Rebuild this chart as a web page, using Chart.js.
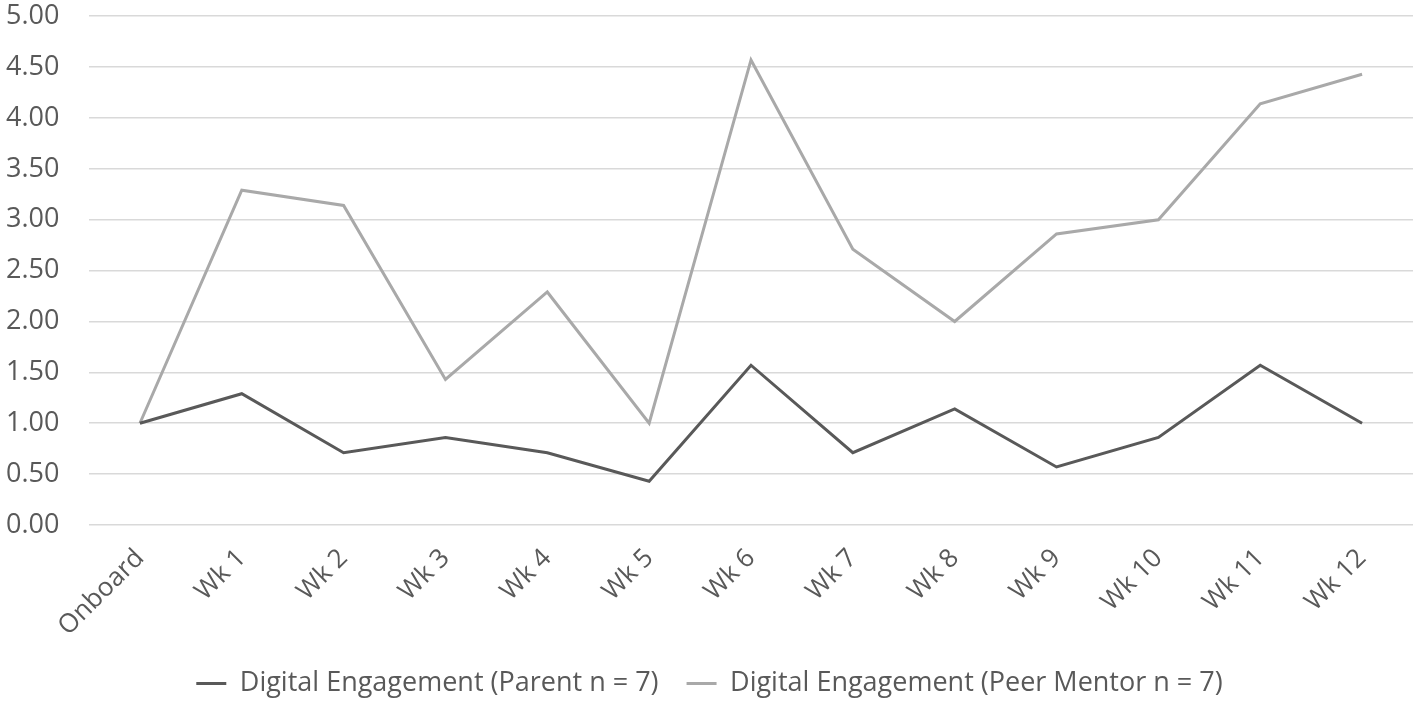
<!DOCTYPE html>
<html lang="en">
<head>
    <meta charset="UTF-8">
    <title>Digital Engagement</title>
    <style>
        body {
            margin: 0;
            background-color: white;
        }
        .chart-container {
            width: 1418px;
            height: 702px;
        }
    </style>
    <script src="https://cdn.jsdelivr.net/npm/chart.js"></script>
</head>
<body>
    <div class="chart-container">
        <canvas id="engagementChart"></canvas>
    </div>

    <script>
        const weeks = ['Onboard', 'Wk 1', 'Wk 2', 'Wk 3', 'Wk 4', 'Wk 5', 'Wk 6',
                       'Wk 7', 'Wk 8', 'Wk 9', 'Wk 10', 'Wk 11', 'Wk 12'];
        const parentValues = [1.00, 1.29, 0.71, 0.86, 0.71, 0.43, 1.57, 0.71, 1.14, 0.57, 0.86, 1.57, 1.00];
        const mentorValues = [1.00, 3.29, 3.14, 1.43, 2.29, 1.00, 4.57, 2.71, 2.00, 2.86, 3.00, 4.14, 4.43];

        const textColor = '#595959';
        const fontFamily = '"Open Sans", "Liberation Sans", sans-serif';

        window.onload = function() {
            const ctx = document.getElementById('engagementChart').getContext('2d');
            new Chart(ctx, {
                type: 'line',
                data: {
                    labels: weeks,
                    datasets: [
                        {
                            label: 'Digital Engagement (Parent n = 7)',
                            data: parentValues,
                            borderColor: '#595959',
                            backgroundColor: '#595959',
                            borderWidth: 3,
                            pointRadius: 0,
                            tension: 0,
                            fill: false
                        },
                        {
                            label: 'Digital Engagement (Peer Mentor n = 7)',
                            data: mentorValues,
                            borderColor: '#a9a9a9',
                            backgroundColor: '#a9a9a9',
                            borderWidth: 3,
                            pointRadius: 0,
                            tension: 0,
                            fill: false
                        }
                    ]
                },
                options: {
                    responsive: true,
                    maintainAspectRatio: false,
                    animation: false,
                    layout: {
                        padding: { top: 0, left: 6, right: 5, bottom: -5 }
                    },
                    scales: {
                        x: {
                            offset: true,
                            grid: { display: false },
                            border: { display: false },
                            ticks: {
                                color: textColor,
                                font: { family: fontFamily, size: 26 },
                                minRotation: 45,
                                maxRotation: 45,
                                padding: 10
                            },
                            // leave room for the rotated labels, they are clipped to this box
                            afterFit: scale => { scale.height = 117; }
                        },
                        y: {
                            min: 0,
                            max: 5,
                            border: { display: false },
                            grid: {
                                color: '#d9d9d9',
                                lineWidth: 1.5,
                                drawTicks: false
                            },
                            ticks: {
                                stepSize: 0.5,
                                color: textColor,
                                font: { family: fontFamily, size: 27 },
                                padding: 0,
                                crossAlign: 'far',
                                callback: value => value.toFixed(2)
                            },
                            afterFit: scale => { scale.width = 83; }
                        }
                    },
                    plugins: {
                        legend: {
                            display: true,
                            position: 'bottom',
                            labels: {
                                color: textColor,
                                font: { family: fontFamily, size: 27 },
                                usePointStyle: true,
                                pointStyle: 'line',
                                pointStyleWidth: 30,
                                padding: 28
                            }
                        },
                        tooltip: { enabled: false }
                    }
                }
            });
        }
    </script>
</body>
</html>
